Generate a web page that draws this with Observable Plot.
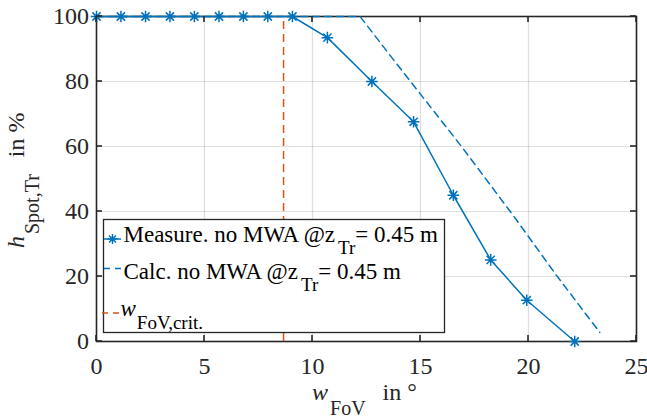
<!DOCTYPE html>
<html><head><meta charset="utf-8">
<script src="https://cdn.jsdelivr.net/npm/d3@7"></script>
<script src="https://cdn.jsdelivr.net/npm/@observablehq/plot@0.6"></script>
<style>body{margin:0;background:#fff}</style>
</head><body><div id="chart"></div>
<script>
// ---- data ----
const measX = [0, 1.13, 2.27, 3.4, 4.53, 5.67, 6.8, 7.93, 9.07, 10.69, 12.75, 14.68, 16.52, 18.25, 19.92, 22.14];
const measY = [100, 100, 100, 100, 100, 100, 100, 100, 100, 93.5, 80, 67.6, 45, 25.1, 12.7, 0];
const calcX = [0, 12.2, 13.9, 16.9, 19.3, 21.3, 23.3];
const calcY = [100, 100, 85.4, 60, 38.7, 20.3, 2.8];
const critX = [8.66];
const xTicks = [0, 5, 10, 15, 20, 25];
const yTicks = [0, 20, 40, 60, 80, 100];
const legendLabels = ["Measure. no MWA @z", "Calc. no MWA @z", "w"];

const BLUE = "#0072BD", RED = "#D95319", INK = "#262626";
const FONT = "Liberation Serif, Times New Roman, Times, serif";

const measured = measX.map((x, i) => ({x, y: measY[i]}));
const calc = calcX.map((x, i) => ({x, y: calcY[i]}));

// 8-armed asterisk (MATLAB '*')
const star8 = {
  draw(ctx, size) {
    const r = Math.sqrt(size / Math.PI);
    for (const a of [0, 45, 90, 135]) {
      const t = a * Math.PI / 180, c = r * Math.cos(t), s = r * Math.sin(t);
      ctx.moveTo(c, s); ctx.lineTo(-c, -s);
    }
  }
};

const chart = Plot.plot({
  width: 647, height: 418,
  marginLeft: 96, marginRight: 11, marginTop: 16, marginBottom: 77,
  style: {fontFamily: FONT, fontSize: "24px", background: "white", color: INK, overflow: "visible"},
  x: {domain: [0, 25]},
  y: {domain: [0, 100]},
  marks: [
    Plot.gridX(xTicks, {stroke: INK, strokeOpacity: 0.15, strokeWidth: 1.2}),
    Plot.gridY(yTicks, {stroke: INK, strokeOpacity: 0.15, strokeWidth: 1.2}),
    Plot.axisX(xTicks, {tickSize: 0, tickPadding: 15, fontSize: 24, label: null, fill: INK}),
    Plot.axisY(yTicks, {tickSize: 0, tickPadding: 7.5, fontSize: 24, label: null, fill: INK}),
    Plot.frame({stroke: INK, strokeWidth: 1.6}),
    Plot.ruleX(critX, {y1: 0, y2: 100, stroke: RED, strokeWidth: 1.5, strokeDasharray: "8,5"}),
    Plot.line(calc, {x: "x", y: "y", stroke: BLUE, strokeWidth: 1.5, strokeDasharray: "7,5"}),
    Plot.line(measured, {x: "x", y: "y", stroke: BLUE, strokeWidth: 1.5}),
    Plot.dot(measured, {x: "x", y: "y", r: 5.8, symbol: star8, stroke: BLUE, strokeWidth: 1.5, fill: "none"})
  ]
});
document.getElementById("chart").append(chart);

const svg = d3.select(chart);
const sx = chart.scale("x"), sy = chart.scale("y");
const yB = sy.apply(0), yT = sy.apply(100), xL = sx.apply(0), xR = sx.apply(25);

// inward ticks on all four sides
const tg = svg.append("g").attr("stroke", INK).attr("stroke-width", 1.6);
for (const t of xTicks) {
  const p = sx.apply(t);
  tg.append("line").attr("x1", p).attr("x2", p).attr("y1", yB).attr("y2", yB - 6);
  tg.append("line").attr("x1", p).attr("x2", p).attr("y1", yT).attr("y2", yT + 6);
}
for (const t of yTicks) {
  const p = sy.apply(t);
  tg.append("line").attr("y1", p).attr("y2", p).attr("x1", xL).attr("x2", xL + 6);
  tg.append("line").attr("y1", p).attr("y2", p).attr("x1", xR).attr("x2", xR - 6);
}

// axis labels
const xl = svg.append("text").attr("font-family", FONT).attr("fill", INK).attr("font-size", 24)
  .attr("text-anchor", "start").attr("x", 312).attr("y", 400);
xl.append("tspan").attr("font-style", "italic").text("w");
xl.append("tspan").attr("font-size", 20).attr("dy", 15).attr("dx", 2).text("FoV");
xl.append("tspan").attr("dy", -15).attr("dx", 17).text("in °");

const yl = svg.append("text").attr("font-family", FONT).attr("fill", INK).attr("font-size", 24)
  .attr("text-anchor", "start").attr("transform", "translate(24,248) rotate(-90)");
yl.append("tspan").attr("font-style", "italic").text("h");
yl.append("tspan").attr("font-size", 20).attr("dy", 15).attr("dx", 2).text("Spot,Tr");
yl.append("tspan").attr("dy", -15).attr("dx", 17).text("in %");

// legend
const lg = svg.append("g").attr("font-family", FONT).attr("font-size", 23).attr("fill", "#000")
  .attr("text-anchor", "start");
lg.append("rect").attr("x", 103.5).attr("y", 219.5).attr("width", 341).attr("height", 113)
  .attr("fill", "white").attr("stroke", INK).attr("stroke-width", 1.3);
// row 1
lg.append("line").attr("x1", 104).attr("x2", 121).attr("y1", 239).attr("y2", 239)
  .attr("stroke", BLUE).attr("stroke-width", 1.5);
lg.append("path").attr("transform", "translate(112.5,239)")
  .attr("d", d3.symbol().type(star8).size(Math.PI * 25)())
  .attr("stroke", BLUE).attr("stroke-width", 1.5).attr("fill", "none");
const t1 = lg.append("text").attr("x", 123.5).attr("y", 242);
t1.append("tspan").text(legendLabels[0]);
t1.append("tspan").attr("font-size", 19).attr("dy", 12).attr("dx", 3).text("Tr");
t1.append("tspan").attr("dy", -12).text("= 0.45 m");
// row 2
lg.append("line").attr("x1", 104).attr("x2", 122).attr("y1", 268.5).attr("y2", 268.5)
  .attr("stroke", BLUE).attr("stroke-width", 1.5).attr("stroke-dasharray", "6,5");
const t2 = lg.append("text").attr("x", 123.5).attr("y", 278.5);
t2.append("tspan").text(legendLabels[1]);
t2.append("tspan").attr("font-size", 19).attr("dy", 12).attr("dx", 3).text("Tr");
t2.append("tspan").attr("dy", -12).text("= 0.45 m");
// row 3
lg.append("line").attr("x1", 102).attr("x2", 119).attr("y1", 313).attr("y2", 313)
  .attr("stroke", RED).attr("stroke-width", 1.5).attr("stroke-dasharray", "6,5");
const t3 = lg.append("text").attr("x", 120.5).attr("y", 315.5);
t3.append("tspan").attr("font-style", "italic").text(legendLabels[2]);
t3.append("tspan").attr("font-size", 19).attr("dy", 13).attr("dx", 1).text("FoV,crit.");
</script>
</body></html>
